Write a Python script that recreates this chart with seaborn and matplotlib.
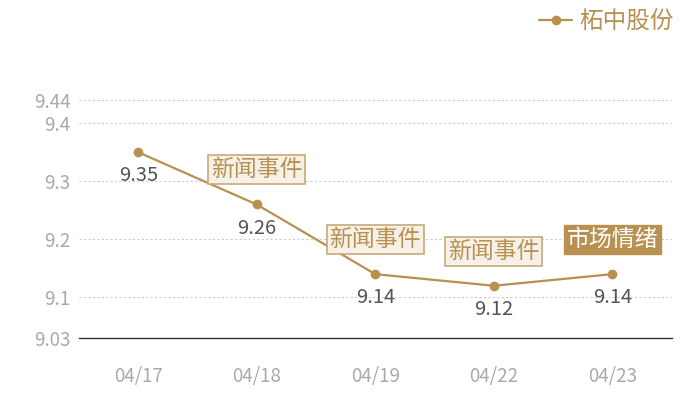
import matplotlib
matplotlib.use("Agg")
import matplotlib.pyplot as plt
import seaborn as sns
import pandas as pd

dates = ["04/17", "04/18", "04/19", "04/22", "04/23"]
prices = [9.35, 9.26, 9.14, 9.12, 9.14]
series_name = "柘中股份"
event_idx = [1, 2, 3, 4]
event_labels = ["新闻事件", "新闻事件", "新闻事件", "市场情绪"]
yticks = [9.03, 9.1, 9.2, 9.3, 9.4, 9.44]

sns.set_theme(style="white")
plt.rcParams['font.family'] = ['Noto Sans CJK SC', 'DejaVu Sans']

GOLD = "#b8904f"
df = pd.DataFrame({"pos": range(len(dates)), "price": prices, "name": series_name})

fig = plt.figure(figsize=(7, 4), dpi=100)
ax = fig.add_axes([79/700, 62/400, 592.5/700, 238/400])

sns.lineplot(data=df, x="pos", y="price", ax=ax, color=GOLD, linewidth=1.6,
             marker="o", markersize=7, markeredgewidth=0, label=series_name)

ax.set_xlim(-0.5, len(dates) - 0.5)
ax.set_ylim(9.03, 9.44)
ax.set_xticks(range(len(dates)))
ax.set_xticklabels(dates)
ax.set_yticks(yticks)
ax.set_yticklabels([f"{v:g}" for v in yticks])
ax.set_xlabel("")
ax.set_ylabel("")
ax.tick_params(axis="both", length=0, colors="#aaaaaa", labelsize=13.5)
ax.tick_params(axis="x", pad=20)
ax.tick_params(axis="y", pad=6)
for s in ["top", "right", "left"]:
    ax.spines[s].set_visible(False)
ax.spines["bottom"].set_color("#333333")
ax.spines["bottom"].set_linewidth(1)
for v in yticks[1:]:
    ax.axhline(v, color="#cccccc", linestyle=(0, (2, 2)), linewidth=0.8, zorder=0)

for i, v in enumerate(prices):
    ax.annotate(f"{v:g}", (i, v), xytext=(0, -17), textcoords="offset points",
                ha="center", va="center", fontsize=14.5, color="#555555")

for i, lab in zip(event_idx, event_labels):
    if lab == "市场情绪":
        bbox = dict(boxstyle="square,pad=0.13", fc=GOLD, ec=GOLD, lw=1)
        tc = "white"
    else:
        bbox = dict(boxstyle="square,pad=0.13", fc="#f5f0e8", ec="#c9a878", lw=1.2)
        tc = GOLD
    ax.annotate(lab, (i, prices[i]), xytext=(0, 25), textcoords="offset points",
                ha="center", va="center", fontsize=16.5, color=tc, bbox=bbox)

leg = ax.legend(loc="upper right", bbox_to_anchor=(1.02, 1.417), frameon=False,
                fontsize=17, handlelength=1.4, handletextpad=0.3, borderaxespad=0)
for t in leg.get_texts():
    t.set_color(GOLD)

fig.savefig("out.png", dpi=100)
